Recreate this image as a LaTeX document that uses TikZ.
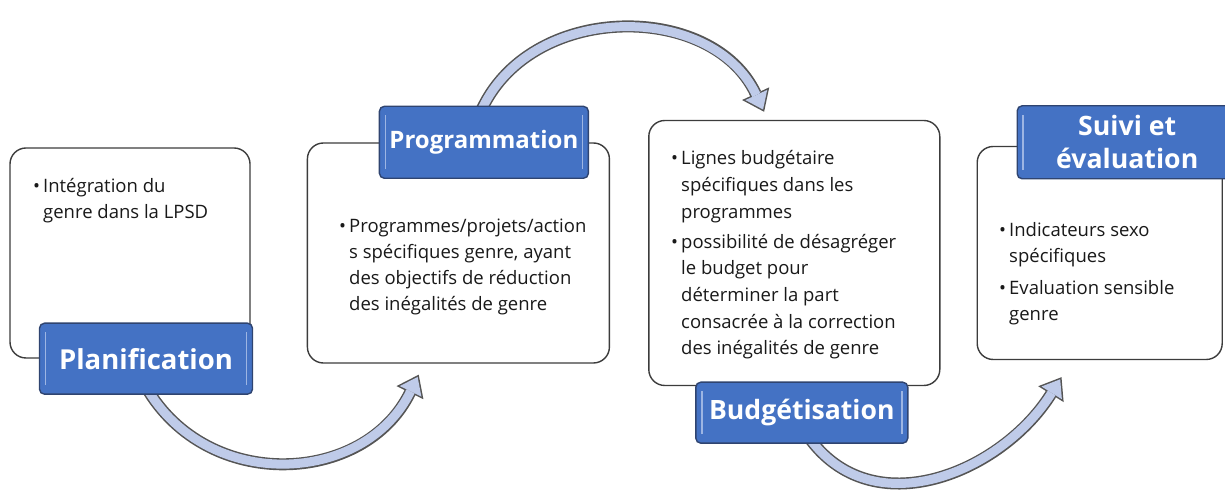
\documentclass[tikz,border=0pt]{standalone}
\usepackage{fontspec}
\setmainfont{Open Sans}
\usepackage{xcolor}
\usetikzlibrary{positioning,arrows.meta,backgrounds}
\definecolor{bleuetape}{HTML}{4472C4}
\definecolor{bordetape}{HTML}{2F4470}
\definecolor{refletetape}{HTML}{9DB5E3}
\definecolor{fondfleche}{HTML}{BFCBE9}
\definecolor{bordfleche}{HTML}{555555}
\definecolor{bordcadre}{HTML}{3C3C3C}
\newcommand{\listepuces}[1]{\begin{tabular}[t]{@{}l@{}l@{}}#1\end{tabular}}
\newcommand{\puce}{\makebox[10pt][l]{\textbullet}}

\begin{document}
\begin{tikzpicture}[x=1pt,y=1pt,node distance=56pt,
	cadre/.style={draw=bordcadre,line width=1.4pt,fill=white,rounded corners=16pt,inner sep=0pt},
	etape/.style={draw=bordetape,line width=1.4pt,fill=bleuetape,rounded corners=5pt,text=white,align=center,inner sep=0pt,
		path picture={\draw[refletetape,line width=1.6pt]
			([xshift=6pt,yshift=9pt]path picture bounding box.south west) -- ([xshift=6pt,yshift=-9pt]path picture bounding box.north west)
			([xshift=-6pt,yshift=9pt]path picture bounding box.south east) -- ([xshift=-6pt,yshift=-9pt]path picture bounding box.north east);}},
	puces/.style={anchor=base west,inner sep=0pt,align=left,text=black!90,font=\fontsize{18.5}{26}\selectfont},
	fleche bord/.style={draw=bordfleche,line width=12pt,-{Triangle[length=20pt,width=30pt,line width=0pt]}},
	fleche fond/.style={draw=fondfleche,line width=9pt,shorten >=2.5pt,-{Triangle[length=16pt,width=24pt,line width=0pt]}}]
	\useasboundingbox (0,0) rectangle (1225,494);

	% cadres
	\node[cadre,minimum width=240pt,minimum height=210pt] (b1) at (130,241) {};
	\node[cadre,minimum width=302pt,minimum height=220pt] (b2) [right=56pt of b1] {};
	\node[cadre,minimum width=291pt,minimum height=265pt] (b3) [right=38pt of b2] {};
	\node[cadre,minimum width=245pt,minimum height=213pt] (b4) [right=36pt of b3] {};

	% textes
	\node[puces] (t1) at (33,301) {\listepuces{\puce & Intégration du\\ & genre dans la LPSD}};
	\node[puces] (t2) at (339,261) {\listepuces{\puce & Programmes/projets/action\\ & s spécifiques genre, ayant\\ & des objectifs de réduction\\ & des inégalités de genre}};
	\node[puces,font=\fontsize{18.5}{26.7}\selectfont] (t3) at (671,329) {\listepuces{\puce & Lignes budgétaire\\ & spécifiques dans les\\ & programmes\\[3pt] \puce & possibilité de désagréger\\ & le budget pour\\ & déterminer la part\\ & consacrée à la correction\\ & des inégalités de genre}};
	\node[puces] (t4) at (999,257) {\listepuces{\puce & Indicateurs sexo\\ & spécifiques\\[6pt] \puce & Evaluation sensible\\ & genre}};

	% etapes
	\node[etape,minimum width=213pt,minimum height=71pt,font=\fontsize{27.5}{33}\selectfont\bfseries] (plan) at ([xshift=16pt]b1.south) {Planification};
	\node[etape,minimum width=209pt,minimum height=72pt,font=\fontsize{24}{30}\selectfont\bfseries] (prog) at ([xshift=25.5pt]b2.north) {Programmation};
	\node[etape,minimum width=212pt,minimum height=61pt,font=\fontsize{26.6}{32}\selectfont\bfseries] (budg) at ([xshift=7.5pt,yshift=-26.5pt]b3.south) {Budgétisation};
	\node[etape,minimum width=220pt,minimum height=73pt,font=\fontsize{26.7}{33}\selectfont\bfseries] (suivi) at ([xshift=27.5pt,yshift=3.5pt]b4.north) {Suivi et\\évaluation};

	\coordinate (f1) at ([xshift=112pt,yshift=-11pt]b2.south west);
	\coordinate (f2) at ([xshift=116pt,yshift=8pt]b3.north west);
	\coordinate (f3) at ([xshift=85pt,yshift=-17pt]b4.south west);

	% fleches
	\begin{scope}[on background layer]
		\draw[fleche bord] ([yshift=8pt]plan.south) to[out=-60,in=244,looseness=1.15] (f1);
		\draw[fleche fond] ([yshift=8pt]plan.south) to[out=-60,in=244,looseness=1.15] (f1);
		\draw[fleche bord] ([xshift=-4pt,yshift=-8pt]prog.north) to[out=67,in=115,looseness=1.1] (f2);
		\draw[fleche fond] ([xshift=-4pt,yshift=-8pt]prog.north) to[out=67,in=115,looseness=1.1] (f2);
		\draw[fleche bord] ([xshift=6pt,yshift=8pt]budg.south) to[out=-55,in=238,looseness=1.1] (f3);
		\draw[fleche fond] ([xshift=6pt,yshift=8pt]budg.south) to[out=-55,in=238,looseness=1.1] (f3);
	\end{scope}
\end{tikzpicture}
\end{document}
